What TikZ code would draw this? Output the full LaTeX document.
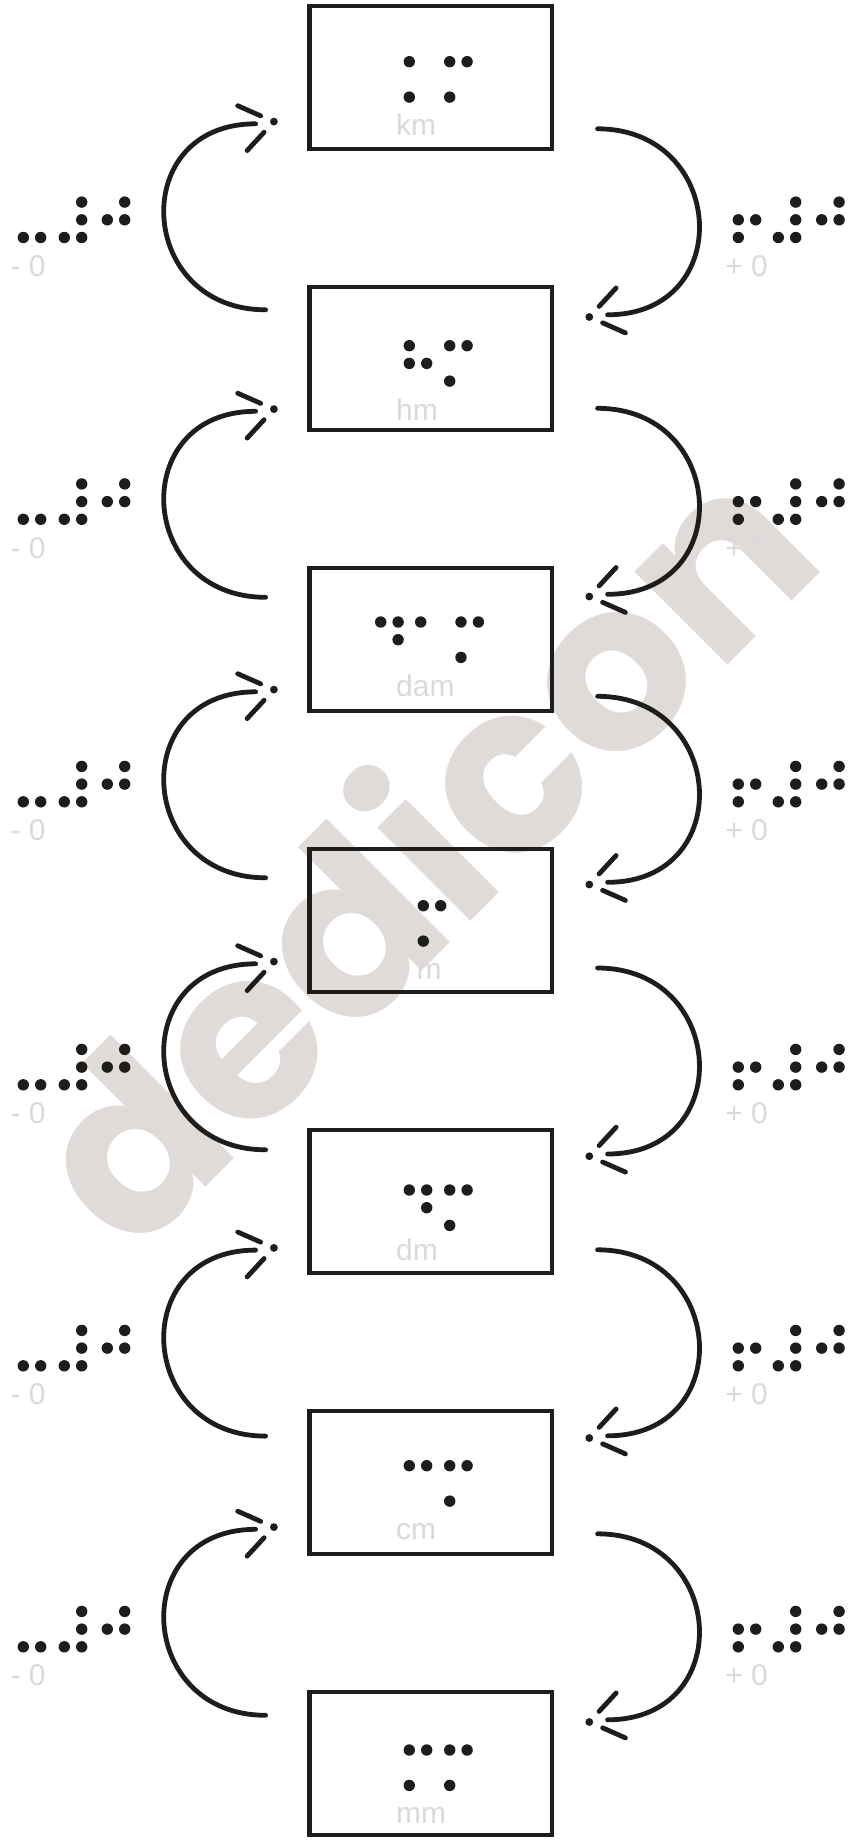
\documentclass[tikz,border=0pt]{standalone}
\usepackage{fontspec}
\setmainfont{Liberation Sans}
\newfontfamily\wmfont{Poppins}
\definecolor{ink}{HTML}{1D1D1B}
\definecolor{lbl}{HTML}{DADADA}
\definecolor{wmc}{HTML}{E0DBD9}
% braille cell: x of left column, y of top row, list of dots
\newcommand\brcell[3]{%
  \foreach \d in {#3}{%
    \pgfmathtruncatemacro\bc{\d>3}%
    \pgfmathtruncatemacro\br{mod(\d-1,3)}%
    \fill[ink] ({#1+\bc*17.4},{#2+\br*17.7}) circle[radius=5.7];
  }}
\tikzset{
  unitbox/.style={draw=ink, line width=4.5pt, minimum width=242.7pt,
    minimum height=142.6pt, inner sep=0pt, outer sep=0pt},
  unitlbl/.style={text=lbl, font=\fontsize{30}{30}\selectfont, inner sep=0pt, anchor=base west},
  arcline/.style={draw=ink, line width=4.8pt, line cap=round},
  wmark/.style={text=wmc, font=\wmfont\bfseries\fontsize{236}{236}\selectfont,
    rotate=45, anchor=base, inner sep=0pt}
}
\begin{document}
\begin{tikzpicture}[x=1pt,y=-1pt]
\fill[white] (0,0) rectangle (847,1840);
\useasboundingbox (0,0) rectangle (847,1840);
% watermark
\node[wmark] (wm) at (480.3,912.1) {dedicon};
% boxes
\foreach \nm/\k in {km/0,hm/1,dam/2,m/3,dm/4,cm/5,mm/6}
  \node[unitbox] (\nm) at (430.85,{77.5+281*\k}) {};
% box labels
\node[unitlbl] (km-t)  at (396,135.7)  {km};
\node[unitlbl] (hm-t)  at (396,420)    {hm};
\node[unitlbl] (dam-t) at (396,696.8)  {dam};
\node[unitlbl] (m-t)   at (416.3,979.3) {m};
\node[unitlbl] (dm-t)  at (396,1260.7) {dm};
\node[unitlbl] (cm-t)  at (396,1539.3) {cm};
\node[unitlbl] (mm-t)  at (396,1823.3) {mm};
% braille in boxes
\brcell{409.3}{61.7}{1,3} \brcell{449.7}{61.7}{1,3,4}
\brcell{409.3}{345.7}{1,2,5} \brcell{449.7}{345.7}{1,3,4}
\brcell{380.7}{622}{1,4,5} \brcell{420.7}{622}{1} \brcell{461}{622}{1,3,4}
\brcell{423.3}{905.7}{1,3,4}
\brcell{409.3}{1190}{1,4,5} \brcell{449.7}{1190}{1,3,4}
\brcell{409.3}{1465.7}{1,4} \brcell{449.7}{1465.7}{1,3,4}
\brcell{409.3}{1750}{1,3,4} \brcell{449.7}{1750}{1,3,4}
% gaps: arcs, arrows and side labels
\foreach \k/\dl/\dr/\dt in {0/0/0/0, 1/6.5/-1.5/0.8, 2/6/5.5/2.3, 3/-3/-3.8/4.3, 4/2.3/-3/4.3, 5/0.5/0/4.3}{
  \pgfmathsetmacro\cy{219.3+281*\k}
  \pgfmathsetmacro\ly{\cy+\dt}
  \brcell{23.3}{\ly-17.2}{3,6} \brcell{64.3}{\ly-17.2}{3,4,5,6} \brcell{107.3}{\ly-17.2}{2,4,5}
  \brcell{738.3}{\ly-17.2}{2,3,5} \brcell{778.3}{\ly-17.2}{3,4,5,6} \brcell{821.7}{\ly-17.2}{2,4,5}
  \node[unitlbl] (minus\k) at (10.4,{\ly+57.2}) {- 0};
  \node[unitlbl] (plus\k) at (725.2,{\ly+57.2}) {+ 0};
  \begin{scope}[shift={(431.6,{\cy+\dl})}]
    \coordinate (ls\k) at (-166,90.5);
    \coordinate (le\k) at (-176,-95.5);
    \coordinate (lt\k) at (-157.7,-97.7);
    \draw[arcline] (ls\k) .. controls (-295,90.5) and (-305,-95.5) .. (le\k);
    \fill[ink] (lt\k) circle[radius=3.9];
    \draw[arcline] (-171,-103.5) -- (-193.9,-113.6);
    \draw[arcline] (-167.5,-87.1) -- (-184.5,-68.7);
  \end{scope}
  \begin{scope}[shift={(431.6,{\cy+\dr})},rotate=180]
    \coordinate (rs\k) at (-166,90.5);
    \coordinate (re\k) at (-176,-95.5);
    \coordinate (rt\k) at (-157.7,-97.7);
    \draw[arcline] (rs\k) .. controls (-295,90.5) and (-305,-95.5) .. (re\k);
    \fill[ink] (rt\k) circle[radius=3.9];
    \draw[arcline] (-171,-103.5) -- (-193.9,-113.6);
    \draw[arcline] (-167.5,-87.1) -- (-184.5,-68.7);
  \end{scope}
}
\end{tikzpicture}
\end{document}
